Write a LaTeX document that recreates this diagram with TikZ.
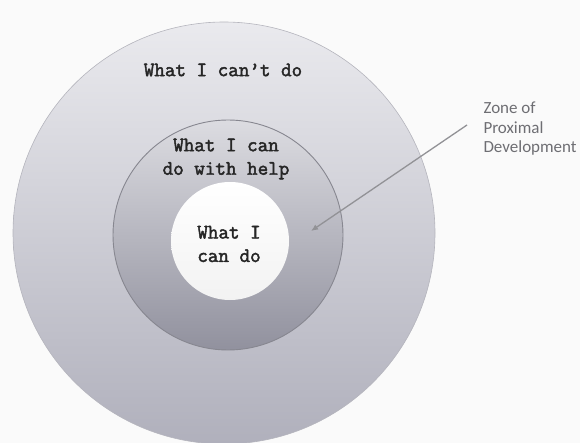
\documentclass[tikz,border=0pt]{standalone}
\usepackage{fontspec}
\setsansfont{Carlito}
\setmonofont{Latin Modern Mono}[AutoFakeBold=2.2]
\usetikzlibrary{arrows.meta}

\definecolor{paper}{RGB}{250,250,250}
\definecolor{outertop}{RGB}{234,234,238}
\definecolor{outerbot}{RGB}{176,176,188}
\definecolor{midtop}{RGB}{220,220,225}
\definecolor{midbot}{RGB}{145,145,158}
\definecolor{rimgrey}{RGB}{150,150,160}
\definecolor{notegrey}{RGB}{110,110,115}

\begin{document}
\begin{tikzpicture}[x=1pt,y=-1pt,
    ring/.style={circle, inner sep=0pt, shading=axis, shading angle=0},
    ringtext/.style={font=\ttfamily\bfseries\fontsize{20.5}{23.5}\selectfont, text=black!85, align=center},
    note/.style={font=\sffamily\fontsize{17}{19.5}\selectfont, text=notegrey, align=left},
    pointer/.style={draw=notegrey!75, line width=1.3pt, -{Latex[length=7pt,width=6pt]}}]
  \useasboundingbox (0,0) rectangle (580,443);
  \fill [paper] (0,0) rectangle (580,443);

  % the three rings, outside in
  \node [ring, minimum size=422pt, top color=outertop, bottom color=outerbot, draw=rimgrey!70, line width=0.6pt] (outer) at (224,233) {};
  \node [ring, minimum size=230pt, top color=midtop, bottom color=midbot, draw=rimgrey!90!black, line width=0.9pt] (middle) at (228,235) {};
  \node [ring, minimum size=118pt, top color=white, bottom color=white!95!black] (inner) at (230,241) {};

  % what sits in each ring
  \node [ringtext] (cant) at (223,70) {What I can’t do};
  \node [ringtext] (help) at (226,159) {What I can\\do with help};
  \node [ringtext] (can) at (229,244) {What I\\can do};

  % side note with its arrow
  \node [note, anchor=west] (zpd) at (480,129) {Zone of\\Proximal\\Development};
  \coordinate (zpdtip) at (311,231);
  \draw [pointer] ([xshift=-13pt,yshift=4pt]zpd.west) -- (zpdtip);
\end{tikzpicture}
\end{document}
